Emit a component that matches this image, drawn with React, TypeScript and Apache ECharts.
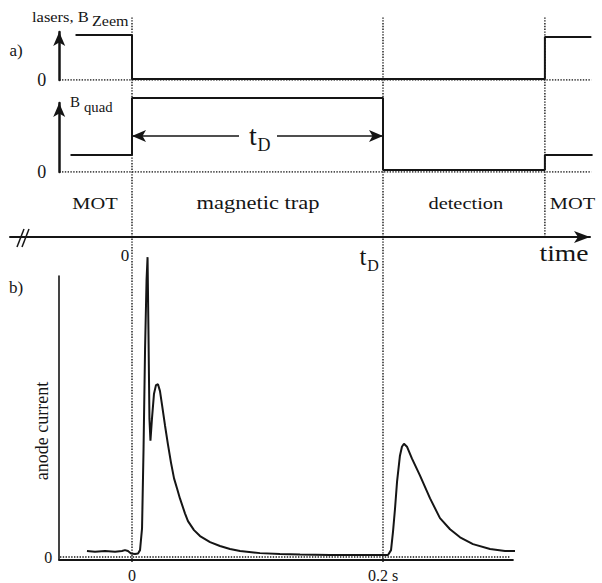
import React, { useEffect, useRef } from 'react';
import * as echarts from 'echarts';

// ---- schematic timing traces (panel a), time in s, level in arbitrary units ----
const laserT = [-0.045, 0, 0, 0.329, 0.329, 0.366];
const laserV = [1, 1, 0.02, 0.02, 0.956, 0.956];
const quadT = [-0.049, 0, 0, 0.2, 0.2, 0.329, 0.329, 0.367];
const quadV = [0.23, 0.23, 1, 1, 0.027, 0.027, 0.23, 0.23];
const tD = 0.2;
const tRestart = 0.329;
const phaseLabels = ['MOT', 'magnetic trap', 'detection', 'MOT'];
const phaseCenters = [-0.0295, 0.1004, 0.266, 0.351];

// ---- anode current (panel b) ----
const currentT = [
  -0.0359, -0.0295, -0.0215, -0.0135, -0.008, -0.0056, -0.0032, -0.0008, 0.0024, 0.0048,
  0.0064, 0.008, 0.0092, 0.0104, 0.0116, 0.0124, 0.0131, 0.0139, 0.0147, 0.0159,
  0.0175, 0.0191, 0.0207, 0.0223, 0.0239, 0.0263, 0.0287, 0.0311, 0.0335, 0.0359, 0.0382,
  0.0422, 0.0446, 0.0494, 0.0542, 0.0622, 0.0701, 0.0781, 0.0861, 0.102, 0.1179,
  0.1339, 0.1578, 0.1817, 0.2, 0.204, 0.2064, 0.208, 0.2096, 0.2112, 0.2135,
  0.2151, 0.2167, 0.2191, 0.2231, 0.2295, 0.2375, 0.2454, 0.2534, 0.2614, 0.2717,
  0.2853, 0.2972, 0.3108,
];
const currentV = [
  2.0, 1.8, 2.0, 1.8, 2.0, 2.3, 2.0, 1.2, 1.0, 1.2,
  2.3, 9.6, 36.2, 69.4, 92.7, 100.3, 76, 46.2, 38.9, 46.2,
  54.5, 57.5, 57.8, 55.5, 51.0, 44.0, 37.5, 31.5, 26.3, 22.9, 19.6,
  14.6, 12.0, 9.0, 7.0, 5.0, 3.7, 2.7, 2.0, 1.3, 1.0,
  0.8, 0.7, 0.7, 0.7, 0.7, 2.3, 8.6, 16.3, 25.2, 33.9,
  36.9, 37.9, 36.9, 32.9, 27.2, 19.6, 13.0, 9.3, 6.6, 4.3,
  2.7, 2.0, 2.0,
];
const bottomXTicks = [0, 0.2];

// ---- layout constants ----
const T0PX = 132;
const PXPS = 1255;
const XMIN = -0.058;
const TOP_XMAX = 0.37;
const BOT_XMAX = 0.3035;
const px = (t: number) => T0PX + t * PXPS;
const SERIF = '"Liberation Serif", "DejaVu Serif", serif';
const INK = '#151515';

export default function App() {
  const ref = useRef<HTMLDivElement>(null);
  useEffect(() => {
    if (!ref.current) return;
    const chart = echarts.init(ref.current, undefined, { renderer: 'svg' });
    const left = px(XMIN);
    const topW = (TOP_XMAX - XMIN) * PXPS;
    const botW = (BOT_XMAX - XMIN) * PXPS;
    const zip = (a: number[], b: number[]) => a.map((v, i) => [v, b[i]]);
    const dotted = { color: INK, width: 1.4, type: 'dotted' as const };
    const solid = { color: INK, width: 2 };
    const hiddenX = (i: number, max: number) => ({
      type: 'value', gridIndex: i, min: XMIN, max, show: false,
    });
    const zeroOnlyY = (i: number, max: number) => ({
      type: 'value', gridIndex: i, min: 0, max, interval: max,
      axisLine: { show: true, onZero: false, symbol: ['none', 'arrow'], symbolSize: [9, 14], lineStyle: { color: INK, width: 2.5 } },
      axisTick: { show: false }, splitLine: { show: false },
      axisLabel: { color: INK, fontSize: 18, fontFamily: SERIF, margin: 13, formatter: (v: number) => (v === 0 ? '0' : '') },
    });
    const text = (t: string, x: number, y: number, fs: number, extra: any = {}) => ({
      type: 'text', x, y, scaleX: extra.scaleX ?? 1, rotation: extra.rotation ?? 0, z: 10,
      style: { text: t, fontSize: fs, fontFamily: SERIF, fill: INK, align: extra.align ?? 'center', verticalAlign: 'middle' },
    });

    const option: any = {
      animation: false,
      backgroundColor: '#fff',
      grid: [
        { left, top: 32, width: topW, height: 48 },
        { left, top: 103, width: topW, height: 69 },
        { left, top: 17, width: topW, height: 545 },
        { left: 10, top: 200, width: 580, height: 37 },
        { left, top: 276, width: botW, height: 286 },
      ],
      xAxis: [
        hiddenX(0, TOP_XMAX),
        hiddenX(1, TOP_XMAX),
        hiddenX(2, TOP_XMAX),
        {
          type: 'value', gridIndex: 3, min: (10 - T0PX) / PXPS, max: (590 - T0PX) / PXPS,
          axisLine: { show: true, onZero: false, symbol: ['none', 'arrow'], symbolSize: [9, 16], lineStyle: { color: INK, width: 2 } },
          axisTick: { show: false }, axisLabel: { show: false }, splitLine: { show: false },
        },
        {
          type: 'value', gridIndex: 4, min: XMIN, max: BOT_XMAX,
          axisLine: { show: true, onZero: false, lineStyle: { color: INK, width: 2 } },
          axisTick: { show: false }, splitLine: { show: false },
          axisLabel: {
            customValues: bottomXTicks, color: INK, fontSize: 16, fontFamily: SERIF, margin: 7,
            formatter: (v: number) => (v < 0.1 ? '0' : '0.2 s'),
          },
        },
      ],
      yAxis: [
        zeroOnlyY(0, 48 / 45),
        zeroOnlyY(1, 69 / 74),
        { type: 'value', gridIndex: 2, min: 0, max: 1, show: false },
        { type: 'value', gridIndex: 3, min: 0, max: 1, show: false },
        {
          type: 'value', gridIndex: 4, min: -1, max: 94,
          axisLine: { show: true, onZero: false, lineStyle: { color: INK, width: 1.6 } },
          axisTick: { show: false }, splitLine: { show: false },
          axisLabel: { customValues: [0], color: INK, fontSize: 16, fontFamily: SERIF, margin: 7, formatter: () => '0' },
        },
      ],
      series: [
        { type: 'line', xAxisIndex: 0, yAxisIndex: 0, data: [[XMIN, 0], [0.366, 0]], symbol: 'none', lineStyle: dotted, z: 1 },
        { type: 'line', xAxisIndex: 0, yAxisIndex: 0, data: zip(laserT, laserV), symbol: 'none', lineStyle: solid, z: 3, clip: false },
        { type: 'line', xAxisIndex: 1, yAxisIndex: 1, data: [[XMIN, 0], [0.366, 0]], symbol: 'none', lineStyle: dotted, z: 1 },
        {
          type: 'line', xAxisIndex: 1, yAxisIndex: 1, data: zip(quadT, quadV), symbol: 'none', lineStyle: solid, z: 3, clip: false,
          markLine: {
            silent: true, symbol: ['arrow', 'arrow'], symbolSize: [9, 14],
            lineStyle: { color: INK, width: 1.6, type: 'solid' },
            label: { show: false },
            data: [[{ coord: [0, 0.486] }, { coord: [tD, 0.486] }]],
          },
        },
        { type: 'line', xAxisIndex: 2, yAxisIndex: 2, data: [[0, 0], [0, 1]], symbol: 'none', lineStyle: dotted, z: 1 },
        { type: 'line', xAxisIndex: 2, yAxisIndex: 2, data: [[tD, 0], [tD, 1]], symbol: 'none', lineStyle: dotted, z: 1 },
        { type: 'line', xAxisIndex: 2, yAxisIndex: 2, data: [[tRestart, 0.596], [tRestart, 1]], symbol: 'none', lineStyle: dotted, z: 1 },
        { type: 'line', xAxisIndex: 4, yAxisIndex: 4, data: [[-0.0574, 0], [0.301, 0]], symbol: 'none', lineStyle: dotted, z: 1 },
        { type: 'line', xAxisIndex: 4, yAxisIndex: 4, data: zip(currentT, currentV), symbol: 'none', clip: false, lineStyle: solid, z: 3 },
      ],
      graphic: [
        text('a)', 16, 50, 17),
        text('b)', 16, 287, 17),
        text('lasers, B', 32, 17, 15, { align: 'left', scaleX: 1.1 }),
        text('Zeem', 92, 21, 14, { align: 'left', scaleX: 1.15 }),
        text('B', 70, 102, 15, { align: 'left' }),
        text('quad', 84, 107, 14, { align: 'left', scaleX: 1.05 }),
        { type: 'rect', shape: { x: 239, y: 124, width: 38, height: 26 }, style: { fill: '#fff' }, z: 9 },
        text('t', 253, 135, 28),
        text('D', 264, 145, 18),
        ...phaseLabels.map((l, i) => text(l, px(phaseCenters[i]), 203, i === 1 ? 18 : 17, { scaleX: i === 1 ? 1.25 : 1.2 })),
        text('0', 125, 255, 17),
        text('t', 363, 256, 25),
        text('D', 373, 265, 16),
        text('time', 564, 253, 24, { scaleX: 1.15 }),
        text('anode current', 42, 431, 18, { rotation: Math.PI / 2 }),
        { type: 'line', shape: { x1: 17, y1: 247, x2: 24, y2: 229 }, style: { stroke: INK, lineWidth: 1.5 } },
        { type: 'line', shape: { x1: 22, y1: 247, x2: 29, y2: 229 }, style: { stroke: INK, lineWidth: 1.5 } },
      ],
    };
    chart.setOption(option);
    return () => chart.dispose();
  }, []);
  return <div ref={ref} style={{ position: 'fixed', left: 0, top: 0, width: 602, height: 583, background: '#fff' }} />;
}
